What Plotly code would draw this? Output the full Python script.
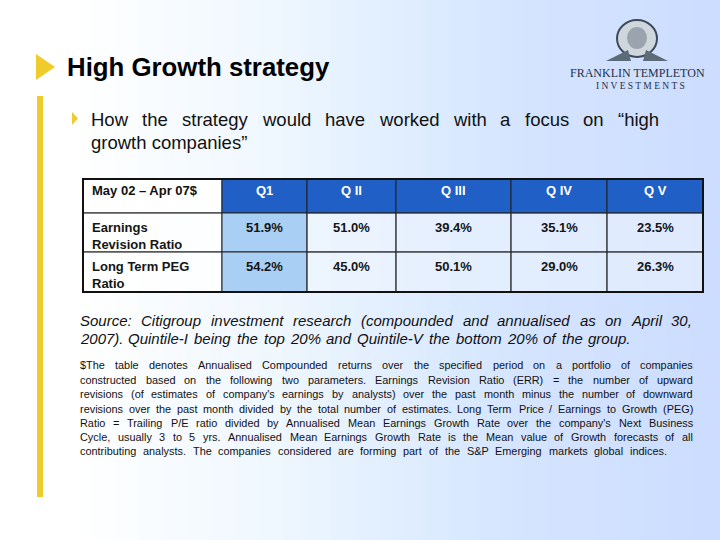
import plotly.graph_objects as go

# ---------------- data ----------------
period_label = "May 02 – Apr 07$"
quintiles = ["Q1", "Q II", "Q III", "Q IV", "Q V"]
row_labels = [["Earnings", "Revision Ratio"], ["Long Term PEG", "Ratio"]]
err_values = ["51.9%", "51.0%", "39.4%", "35.1%", "23.5%"]
peg_values = ["54.2%", "45.0%", "50.1%", "29.0%", "26.3%"]

title_text = "High Growth strategy"
bullet_lines = ["How the strategy would have worked with a focus on “high",
                "growth companies”"]
source_lines = ["Source: Citigroup investment research (compounded and annualised as on April 30,",
                "2007). Quintile-I being the top 20% and Quintile-V the bottom 20% of the group."]
note_lines = [
    "$The table denotes Annualised Compounded returns over the specified period on a portfolio of companies",
    "constructed based on the following two parameters. Earnings Revision Ratio (ERR) = the number of upward",
    "revisions (of estimates of company's earnings by analysts) over the past month minus the number of downward",
    "revisions over the past month divided by the total number of estimates. Long Term Price / Earnings to Growth (PEG)",
    "Ratio = Trailing P/E ratio divided by Annualised Mean Earnings Growth Rate over the company's Next Business",
    "Cycle, usually 3 to 5 yrs. Annualised Mean Earnings Growth Rate is the Mean value of Growth forecasts of all",
    "contributing analysts. The companies considered are forming part of the S&P Emerging markets global indices.",
]

# ---------------- helpers ----------------
FONT = "Liberation Sans, Arial, sans-serif"
YELLOW = "#EFCB2C"
AW = {' ': 278, 'a': 556, 'b': 556, 'c': 500, 'd': 556, 'e': 556, 'f': 278, 'g': 556, 'h': 556,
      'i': 222, 'j': 222, 'k': 500, 'l': 222, 'm': 833, 'n': 556, 'o': 556, 'p': 556, 'q': 556,
      'r': 333, 's': 500, 't': 278, 'u': 556, 'v': 500, 'w': 722, 'x': 500, 'y': 500, 'z': 500,
      'A': 667, 'B': 667, 'C': 722, 'D': 722, 'E': 667, 'F': 611, 'G': 778, 'H': 722, 'I': 278,
      'J': 500, 'K': 667, 'L': 556, 'M': 833, 'N': 722, 'O': 778, 'P': 667, 'Q': 778, 'R': 722,
      'S': 667, 'T': 611, 'U': 722, 'V': 667, 'W': 944, 'X': 667, 'Y': 667, 'Z': 611,
      '.': 278, ',': 278, '(': 333, ')': 333, '/': 278, '=': 584, '$': 556, "'": 191, '’': 222,
      '“': 333, '”': 333, '-': 333, '–': 556, '%': 889, '&': 667, ':': 278, ';': 278}


def tw(s, size):
    return sum(AW.get(c, 556) for c in s) / 1000.0 * size


annotations = []
shapes = []


def add_text(text, x, y, size, color="#111111", anchor="left", family=FONT):
    annotations.append(dict(x=x, y=y, xref="x", yref="y", text=text, showarrow=False,
                            xanchor=anchor, yanchor="middle", borderpad=0,
                            font=dict(family=family, size=size, color=color)))


def justify(line, x0, x1, y, size, color="#111111", italic=False):
    words = line.split(" ")
    # shrink slightly if the line would not fit with at least a small gap
    while sum(tw(w, size) for w in words) + 0.22 * size * (len(words) - 1) > (x1 - x0):
        size -= 0.1
    widths = [tw(w, size) for w in words]
    gap = (x1 - x0 - sum(widths)) / max(1, len(words) - 1)
    x = x0
    for w, wd in zip(words, widths):
        t = f"<i>{w}</i>" if italic else w
        add_text(t, x, y, size, color)
        x += wd + gap


def rect(x0, x1, y0, y1, fill, line_color=None, lw=0, layer="above", opacity=1.0):
    shapes.append(dict(type="rect", x0=x0, x1=x1, y0=y0, y1=y1, xref="x", yref="y",
                       fillcolor=fill, opacity=opacity, layer=layer,
                       line=dict(width=lw, color=line_color or "rgba(0,0,0,0)")))


# background gradient (light blue towards right)
for i in range(26):
    rect(90 + i * 24, 720, 0, 540, "#b3d1f0", layer="below", opacity=0.03)
for i in range(8):
    rect(300 + i * 30, 720, 0, 540, "#a8c9ec", layer="below", opacity=0.012)

# title marker, vertical bar, bullet
shapes.append(dict(type="path", path="M 36 54 L 55 67 L 36 80 Z", fillcolor=YELLOW,
                   line=dict(width=0), xref="x", yref="y"))
rect(37, 43, 96, 497, YELLOW)
shapes.append(dict(type="path", path="M 72 112 L 78 118.5 L 72 125 Z", fillcolor=YELLOW,
                   line=dict(width=0), xref="x", yref="y"))

# logo approximation
shapes.append(dict(type="circle", x0=617, x1=657, y0=20, y1=57, fillcolor="#cfd6dc",
                   line=dict(color="#3d4a5c", width=2), xref="x", yref="y"))
shapes.append(dict(type="circle", x0=627, x1=647, y0=27, y1=49, fillcolor="#9aa4ae",
                   line=dict(width=0), xref="x", yref="y"))
shapes.append(dict(type="path", path="M 606 61 L 628 50 L 631 61 Z", fillcolor="#5d6a78",
                   line=dict(width=0), xref="x", yref="y"))
shapes.append(dict(type="path", path="M 668 61 L 646 50 L 643 61 Z", fillcolor="#5d6a78",
                   line=dict(width=0), xref="x", yref="y"))
add_text("FRANKLIN TEMPLETON", 637, 73, 12, "#243149", "center", "Liberation Serif, serif")
add_text("I N V E S T M E N T S", 640, 86, 9.5, "#243149", "center", "Liberation Serif, serif")

# title
add_text(f"<b>{title_text}</b>", 66, 67, 25.8, "#000000")

# bullet text
justify(bullet_lines[0], 90, 658, 119, 18.5)
add_text(bullet_lines[1], 90, 142, 18.5, "#111111")

# source lines
justify(source_lines[0], 79, 691, 320, 15, italic=True)
justify(source_lines[1], 79, 630, 338, 15, italic=True)

# footnote
ny = [365, 380, 394, 409, 423, 437, 451]
for k, (ln, y) in enumerate(zip(note_lines, ny)):
    end = 692 if k < len(note_lines) - 1 else 666
    justify(ln, 79, end, y, 10.9)

# ---------------- table ----------------
col_x = [83, 222, 307, 396, 511, 607, 703]
row_y = [179, 213, 252, 292]
header_fill = ["rgba(255,255,255,0.9)"] + ["#1f5fc6"] * len(quintiles)
data_fill = ["rgba(255,255,255,0.75)", "#a9cff5"] + ["rgba(240,246,253,0.5)"] * (len(quintiles) - 1)

for c in range(len(col_x) - 1):
    rect(col_x[c], col_x[c + 1], row_y[0], row_y[1], header_fill[c], "#222222", 1)
    for r in range(2):
        rect(col_x[c], col_x[c + 1], row_y[r + 1], row_y[r + 2], data_fill[c], "#222222", 1)

add_text(f"<b>{period_label}</b>", col_x[0] + 8, row_y[0] + 11, 13, "#111111")
for i, q in enumerate(quintiles):
    cx = (col_x[i + 1] + col_x[i + 2]) / 2
    add_text(f"<b>{q}</b>", cx, row_y[0] + 11, 13, "#ffffff", "center")
    add_text(f"<b>{err_values[i]}</b>", cx, row_y[1] + 14, 13, "#151515", "center")
    add_text(f"<b>{peg_values[i]}</b>", cx, row_y[2] + 14, 13, "#151515", "center")
for r, lab in enumerate(row_labels):
    for k, part in enumerate(lab):
        add_text(f"<b>{part}</b>", col_x[0] + 8, row_y[r + 1] + 14 + 17 * k, 13, "#151515")

rect(col_x[0], col_x[-1], row_y[0], row_y[-1], "rgba(0,0,0,0)", "#111111", 2)

fig = go.Figure(go.Scatter(x=[0, 720], y=[0, 540], mode="markers",
                           marker=dict(opacity=0), hoverinfo="skip", showlegend=False))
fig.update_layout(
    width=720, height=540, margin=dict(l=0, r=0, t=0, b=0),
    paper_bgcolor="#ffffff", plot_bgcolor="#ffffff",
    xaxis=dict(range=[0, 720], visible=False, fixedrange=True),
    yaxis=dict(range=[540, 0], visible=False, fixedrange=True),
    shapes=shapes, annotations=annotations, showlegend=False,
)
fig.write_html("out.html", config={"displayModeBar": False},
               post_script="document.body.style.margin='0px';")
